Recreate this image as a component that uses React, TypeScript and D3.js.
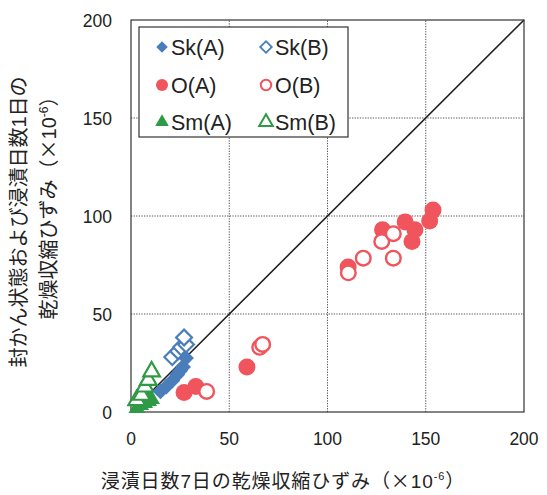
import React from "react";
import * as d3 from "d3";

const xTicks = [0, 50, 100, 150, 200];
const yTicks = [0, 50, 100, 150, 200];

const skA: [number, number][] = [[15, 10.5], [18, 13], [21, 16], [23.5, 19], [26.5, 23], [28, 27.5], [25, 21]];
const skB: [number, number][] = [[21, 28], [24, 31], [25.5, 33], [28, 34.5], [27, 38]];
const oA: [number, number][] = [[27, 10], [33, 13], [59, 23], [110.5, 74], [128, 93], [139.5, 97], [144.5, 93], [143, 87], [152, 97.5], [153.7, 103]];
const oB: [number, number][] = [[38.5, 10.5], [65.5, 33], [67, 34.5], [110.6, 71], [118.2, 78.5], [127.6, 87], [133.5, 91], [133.5, 78.5]];
const smA: [number, number][] = [[3, 2], [5, 3.5], [7, 4.5], [9, 5.5], [10.5, 6.5], [8, 8]];
const smB: [number, number][] = [[2.9, 6], [5.4, 8.7], [7.1, 12.9], [8.8, 16.3], [10.5, 20.6]];

const BLUE = "#4A7EBB";
const RED = "#F0545C";
const GREEN = "#2F9A46";
const FONT = "'Liberation Sans', 'Noto Sans CJK JP', sans-serif";
const JFONT = "'Noto Sans CJK JP', sans-serif";

const X0 = 131, X1 = 524, Y0 = 412, Y1 = 20;

export default function App() {
  const x = d3.scaleLinear().domain([0, 200]).range([X0, X1]);
  const y = d3.scaleLinear().domain([0, 200]).range([Y0, Y1]);
  const sq = d3.symbol().type(d3.symbolSquare).size(125)()!;
  const sqL = d3.symbol().type(d3.symbolSquare).size(66)()!;
  const tri = d3.symbol().type(d3.symbolTriangle).size(120)()!;
  const triL = d3.symbol().type(d3.symbolTriangle).size(80)()!;

  const diamond = (d: [number, number], i: number, filled: boolean) => (
    <path key={i} d={sq} transform={`translate(${x(d[0])},${y(d[1])}) rotate(45)`}
      fill={filled ? BLUE : "#fff"} stroke={BLUE} strokeWidth={filled ? 0 : 2.2} />
  );
  const circle = (d: [number, number], i: number, filled: boolean) => (
    <circle key={i} cx={x(d[0])} cy={y(d[1])} r={filled ? 8.5 : 7.3}
      fill={filled ? RED : "#fff"} stroke={RED} strokeWidth={filled ? 0 : 2.4} />
  );
  const triangle = (d: [number, number], i: number, filled: boolean) => (
    <path key={i} d={tri} transform={`translate(${x(d[0])},${y(d[1])})`}
      fill={filled ? GREEN : "#fff"} stroke={GREEN} strokeWidth={filled ? 0 : 2.2} />
  );

  const legendRows = [
    { y: 47, a: "Sk(A)", b: "Sk(B)", kind: "d" },
    { y: 85, a: "O(A)", b: "O(B)", kind: "c" },
    { y: 122, a: "Sm(A)", b: "Sm(B)", kind: "t" },
  ];
  const legendMarker = (kind: string, cx: number, cy: number, filled: boolean) => {
    if (kind === "d") return <path d={sqL} transform={`translate(${cx},${cy}) rotate(45)`} fill={filled ? BLUE : "#fff"} stroke={BLUE} strokeWidth={filled ? 0 : 1.8} />;
    if (kind === "c") return <circle cx={cx} cy={cy} r={filled ? 6 : 5.2} fill={filled ? RED : "#fff"} stroke={RED} strokeWidth={filled ? 0 : 2} />;
    return <path d={triL} transform={`translate(${cx},${cy})`} fill={filled ? GREEN : "#fff"} stroke={GREEN} strokeWidth={filled ? 0 : 2} />;
  };

  return (
    <svg width={547} height={495} style={{ position: "absolute", left: 0, top: 0 }} fontFamily={FONT}>
      <rect width={547} height={495} fill="#fff" />
      {xTicks.slice(1, -1).map((t) => (
        <line key={"gx" + t} x1={x(t)} x2={x(t)} y1={Y0} y2={Y1} stroke="#555" strokeWidth={1} strokeDasharray="1.3,1.3" />
      ))}
      {yTicks.slice(1, -1).map((t) => (
        <line key={"gy" + t} x1={X0} x2={X1} y1={y(t)} y2={y(t)} stroke="#555" strokeWidth={1} strokeDasharray="1.3,1.3" />
      ))}
      <line x1={x(0)} y1={y(0)} x2={x(200)} y2={y(200)} stroke="#222" strokeWidth={1.6} />
      <rect x={X0} y={Y1} width={X1 - X0} height={Y0 - Y1} fill="none" stroke="#333" strokeWidth={1.2} />
      {smA.map((d, i) => triangle(d, i, true))}
      {smB.map((d, i) => triangle(d, i, false))}
      {skA.map((d, i) => diamond(d, i, true))}
      {skB.map((d, i) => diamond(d, i, false))}
      {oA.map((d, i) => circle(d, i, true))}
      {oB.map((d, i) => circle(d, i, false))}
      {xTicks.map((t) => (
        <text key={"tx" + t} x={x(t)} y={445} textAnchor="middle" fontSize={17.5} fill="#222">{t}</text>
      ))}
      {yTicks.map((t) => (
        <text key={"ty" + t} x={112} y={y(t) + 6.5} textAnchor="end" fontSize={17.5} fill="#222">{t}</text>
      ))}
      <rect x={139} y={27} width={209} height={110} fill="#fff" stroke="#333" strokeWidth={1.2} />
      {legendRows.map((r) => (
        <g key={r.a}>
          {legendMarker(r.kind, 162, r.y, true)}
          <text x={171} y={r.y + 7.5} fontSize={21.5} fill="#222">{r.a}</text>
          {legendMarker(r.kind, 266, r.y, false)}
          <text x={275} y={r.y + 7.5} fontSize={21.5} fill="#222">{r.b}</text>
        </g>
      ))}
      <text x={283} y={488} textAnchor="middle" fontSize={19} letterSpacing={0.9} fill="#222" fontFamily={JFONT}>
        浸漬日数<tspan fontFamily={FONT}>7</tspan>日の乾燥収縮ひずみ（×<tspan fontFamily={FONT}>10</tspan><tspan fontSize={11} dy={-8} fontFamily={FONT}>-6</tspan><tspan dy={8}>）</tspan>
      </text>
      <text transform="translate(26,222) rotate(-90)" textAnchor="middle" fontSize={20} fill="#222" fontFamily={JFONT}>
        封かん状態および浸漬日数<tspan fontFamily={FONT}>1</tspan>日の
      </text>
      <text transform="translate(56,203) rotate(-90)" textAnchor="middle" fontSize={20} fill="#222" fontFamily={JFONT}>
        乾燥収縮ひずみ（×<tspan fontFamily={FONT}>10</tspan><tspan fontSize={12} dy={-8} fontFamily={FONT}>-6</tspan><tspan dy={8}>）</tspan>
      </text>
    </svg>
  );
}
